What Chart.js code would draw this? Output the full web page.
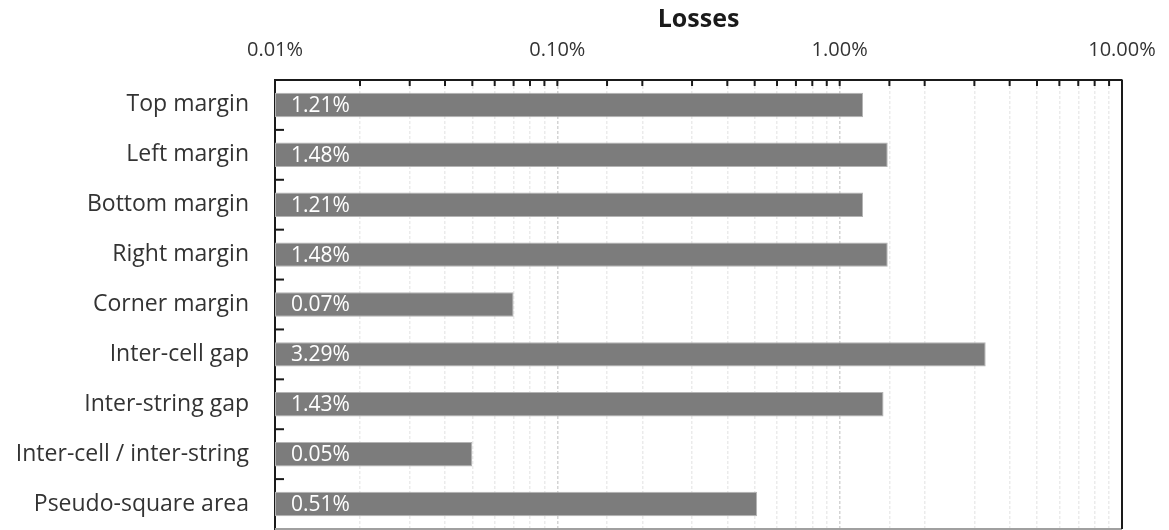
<!DOCTYPE html>
<html>
<head>
<meta charset="utf-8">
<script src="https://cdn.jsdelivr.net/npm/chart.js@4/dist/chart.umd.min.js"></script>
<style>
  html, body { margin: 0; padding: 0; background: #fff; }
  #wrap { width: 1169px; height: 530px; position: relative; }
</style>
</head>
<body>
<div id="wrap"><canvas id="lossChart"></canvas></div>
<script>
  // values, in percent
  const categories = [
    'Top margin',
    'Left margin',
    'Bottom margin',
    'Right margin',
    'Corner margin',
    'Inter-cell gap',
    'Inter-string gap',
    'Inter-cell / inter-string',
    'Pseudo-square area',
  ];
  const losses = [1.21, 1.48, 1.21, 1.48, 0.07, 3.29, 1.43, 0.05, 0.51];
  const axisMin = 0.01;
  const axisMax = 10;
  const axisTitle = 'Losses';

  const FONT = '"Open Sans", sans-serif';

  function isDecade(v) {
    const l = Math.log10(v);
    return Math.abs(l - Math.round(l)) < 1e-6;
  }

  // value labels, right/bottom frame and the inward tick marks
  const decorations = {
    id: 'decorations',
    afterDatasetsDraw(chart) {
      const { ctx, chartArea: a } = chart;
      const xs = chart.scales.x;
      const ys = chart.scales.y;
      ctx.save();

      const meta = chart.getDatasetMeta(0);
      ctx.fillStyle = '#ffffff';
      ctx.font = '21px ' + FONT;
      ctx.textBaseline = 'middle';
      ctx.textAlign = 'left';
      meta.data.forEach((bar, i) => {
        ctx.fillText(losses[i].toFixed(2) + '%', a.left + 16, bar.y + 1);
      });

      ctx.lineWidth = 2;
      ctx.strokeStyle = '#a0a0a0';
      ctx.beginPath();
      ctx.moveTo(a.left, a.bottom);
      ctx.lineTo(a.right, a.bottom);
      ctx.stroke();
      ctx.strokeStyle = '#1a1a1a';
      ctx.beginPath();
      ctx.moveTo(a.right, a.top);
      ctx.lineTo(a.right, a.bottom);
      ctx.stroke();

      xs.ticks.forEach((t) => {
        const px = xs.getPixelForValue(t.value);
        if (px <= a.left + 2 || px >= a.right - 2) return;
        ctx.beginPath();
        ctx.moveTo(px, a.top);
        ctx.lineTo(px, a.top + 6);
        ctx.stroke();
      });

      for (let i = 1; i < categories.length; i++) {
        const py = (ys.getPixelForValue(i - 1) + ys.getPixelForValue(i)) / 2;
        ctx.beginPath();
        ctx.moveTo(a.left, py);
        ctx.lineTo(a.left + 9, py);
        ctx.stroke();
      }
      ctx.restore();
    },
  };

  new Chart(document.getElementById('lossChart').getContext('2d'), {
    type: 'bar',
    data: {
      labels: categories,
      datasets: [
        {
          data: losses,
          backgroundColor: '#7c7c7c',
          borderColor: '#b4b4b4',
          borderWidth: 1,
          borderSkipped: false,
          categoryPercentage: 1,
          barPercentage: 0.49,
        },
      ],
    },
    options: {
      indexAxis: 'y',
      responsive: true,
      maintainAspectRatio: false,
      animation: false,
      layout: { padding: { left: 0, right: 47, top: 5, bottom: 1 } },
      plugins: {
        legend: { display: false },
        tooltip: { enabled: false },
      },
      scales: {
        x: {
          type: 'logarithmic',
          position: 'top',
          min: axisMin,
          max: axisMax,
          title: {
            display: true,
            text: axisTitle,
            color: '#1a1a1a',
            font: { family: FONT, size: 25, weight: 'bold' },
            padding: { top: 0, bottom: 3 },
          },
          ticks: {
            autoSkip: false,
            maxRotation: 0,
            color: '#333333',
            font: { family: FONT, size: 20 },
            padding: 18,
            callback: (v) => (isDecade(v) ? Number(v).toFixed(2) + '%' : ''),
          },
          grid: {
            drawTicks: false,
            lineWidth: 1.5,
            color: (c) => (c.tick && isDecade(c.tick.value) ? '#d4d4d4' : '#ebebeb'),
          },
          border: { display: true, color: '#1a1a1a', width: 2, dash: [3, 2] },
          afterFit: (s) => {
            s.height = 75;
            s.paddingLeft = 0;
            s.paddingRight = 0;
          },
        },
        y: {
          ticks: {
            color: '#333333',
            font: { family: FONT, size: 23 },
            padding: 26,
          },
          grid: { display: false, drawTicks: false },
          border: { display: true, color: '#1a1a1a', width: 2 },
          afterFit: (s) => {
            s.width = 275;
            s.paddingTop = 0;
            s.paddingBottom = 0;
          },
        },
      },
    },
    plugins: [decorations],
  });
</script>
</body>
</html>
